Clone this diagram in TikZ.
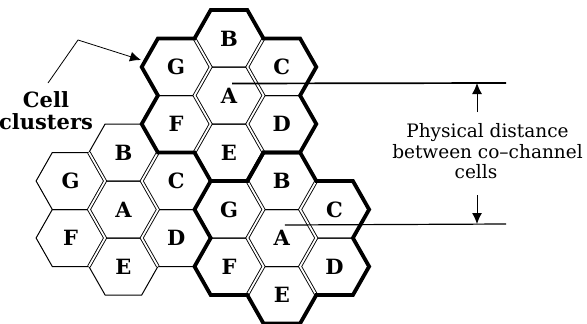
\documentclass[tikz,border=0pt]{standalone}
\usepackage{fontspec}
\setmainfont{DejaVu Serif}
\usetikzlibrary{arrows.meta, calc}

\begin{document}
\begin{tikzpicture}[
    x=1pt, y=-1pt,
    cell/.style={font=\bfseries\fontsize{21}{21}\selectfont, inner sep=0pt},
    hexline/.style={line width=1pt},
    seam/.style={double, line width=0.9pt, double distance=1.8pt},
    rim/.style={line width=3.8pt},
    lbl/.style={font=\fontsize{18.5}{21}\selectfont, align=center, inner sep=0pt},
    clbl/.style={font=\bfseries\fontsize{21}{22}\selectfont, align=center, inner sep=0pt},
    arr/.style={-{Latex[length=11pt,width=10pt]}, line width=1pt}
  ]
  \useasboundingbox (0,0) rectangle (587,324);
  \foreach \grp/\cx/\cy in {t/229/95.5, l/123.4/209.5, r/281.8/238} {
    \begin{scope}[shift={(\cx,\cy)}]
      \foreach \lab/\dx/\dy in {A/0/0, B/0/-57, C/52.8/-28.5, D/52.8/28.5,
                                 E/0/57, F/-52.8/28.5, G/-52.8/-28.5} {
        \draw[hexline, shift={(\dx,\dy)}] (-34.5,0) -- (-18.3,-28.5) -- (18.3,-28.5)
          -- (34.5,0) -- (18.3,28.5) -- (-18.3,28.5) -- cycle;
        \node[cell] (\grp\lab) at (\dx,\dy) {\lab};
      }
      \draw[seam] (-34.5,-57) -- (-18.3,-28.5) -- (-34.5,0) -- (-18.3,28.5) -- (-34.5,57);
      \draw[seam] (34.5,-57) -- (18.3,-28.5) -- (34.5,0) -- (18.3,28.5) -- (34.5,57);
    \end{scope}
  }
  \foreach \cx/\cy in {229/95.5, 281.8/238}
    \draw[rim, shift={(\cx,\cy)}] (-18.3,-85.5) -- (18.3,-85.5) -- (34.5,-57) -- (71.1,-57)
      -- (87.3,-28.5) -- (71.1,0) -- (87.3,28.5) -- (71.1,57) -- (34.5,57) -- (18.3,85.5)
      -- (-18.3,85.5) -- (-34.5,57) -- (-71.1,57) -- (-87.3,28.5) -- (-71.1,0)
      -- (-87.3,-28.5) -- (-71.1,-57) -- (-34.5,-57) -- cycle;

  \node[clbl, anchor=south] (clus) at (46,130) {Cell\\clusters};
  \coordinate (cstart) at (48,83);
  \coordinate (cknee) at (78,40);
  \coordinate (ctip) at (141,60);
  \draw[arr, line width=0.8pt] (cstart) -- (cknee) -- (ctip);

  \node[lbl, anchor=south] (dist) at (487.5,159) {Physical distance\\between co--channel};
  \node[lbl, anchor=base] (cells) at (476,178) {cells};
  \coordinate (tend) at (506,83);
  \coordinate (rend) at (506,224);
  \coordinate (up) at (477,112);
  \coordinate (down) at (477,195);
  \draw[line width=1.7pt] ([xshift=3pt,yshift=12pt]tA.center) -- (tend);
  \draw[line width=1.2pt] ([xshift=3pt,yshift=13pt]rA.center) -- (rend);
  \draw[arr] (up) -- (up |- tend);
  \draw[arr] (down) -- (down |- rend);
\end{tikzpicture}
\end{document}
